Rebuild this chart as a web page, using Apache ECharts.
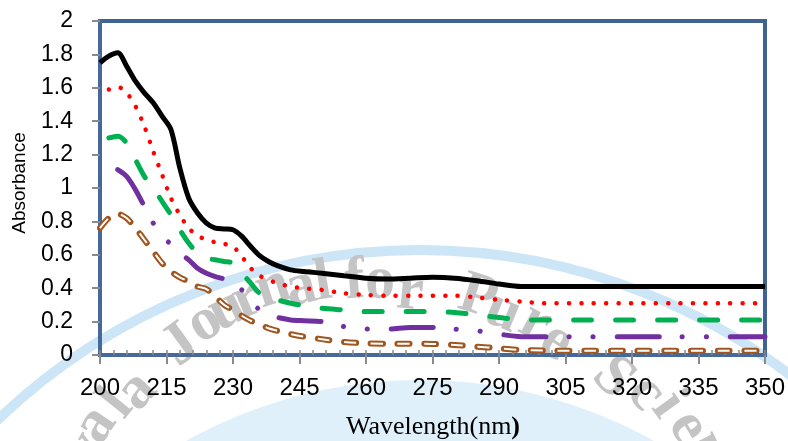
<!DOCTYPE html>
<html><head><meta charset="utf-8">
<script src="https://cdn.jsdelivr.net/npm/echarts@6/dist/echarts.min.js"></script>
<style>html,body{margin:0;padding:0;background:#fff}#c{width:788px;height:441px}</style>
</head><body><div id="c"></div>
<script>
// ---- data ----
const wavelengths = [200,202,204,206,208,210,212,214,216,218,220,222,224,226,228,230,232,234,236,238,240,243,246,250,255,260,265,270,275,280,285,290,295,300,310,320,330,340,350];
const seriesBlack  = [1.75,1.79,1.81,1.73,1.64,1.57,1.51,1.43,1.35,1.12,0.94,0.85,0.79,0.76,0.755,0.75,0.71,0.65,0.595,0.56,0.535,0.51,0.50,0.49,0.475,0.46,0.455,0.46,0.465,0.46,0.445,0.425,0.41,0.41,0.41,0.41,0.41,0.41,0.41];
const seriesRed    = [null,1.59,1.605,1.57,1.49,1.37,1.22,1.08,0.94,0.84,0.76,0.715,0.69,0.675,0.665,0.65,0.59,0.52,0.475,0.45,0.43,0.41,0.40,0.39,0.37,0.36,0.355,0.355,0.355,0.355,0.345,0.33,0.32,0.31,0.31,0.31,0.31,0.31,0.31];
const seriesGreen  = [null,1.30,1.31,1.27,1.17,1.07,1.00,0.92,0.84,0.75,0.67,0.61,0.58,0.57,0.56,0.55,0.49,0.43,0.37,0.345,0.33,0.31,0.295,0.28,0.27,0.26,0.26,0.26,0.26,0.255,0.24,0.225,0.21,0.21,0.21,0.21,0.21,0.21,0.21];
const seriesPurple = [null,null,1.11,1.07,0.99,0.89,0.79,0.72,0.66,0.61,0.57,0.52,0.49,0.47,0.455,0.43,0.39,0.325,0.27,0.24,0.225,0.21,0.205,0.20,0.17,0.155,0.155,0.165,0.165,0.155,0.145,0.125,0.11,0.11,0.11,0.11,0.11,0.11,0.11];
const seriesBrown  = [0.76,0.82,0.845,0.82,0.76,0.69,0.62,0.55,0.50,0.465,0.44,0.41,0.395,0.35,0.30,0.27,0.235,0.205,0.185,0.16,0.145,0.125,0.11,0.095,0.078,0.07,0.068,0.068,0.066,0.06,0.05,0.04,0.03,0.027,0.025,0.025,0.025,0.025,0.025];
const xTickValues = [200,215,230,245,260,275,290,305,320,335,350];
const yTickValues = [0,0.2,0.4,0.6,0.8,1,1.2,1.4,1.6,1.8,2];
const xTitle = 'Wavelength(nm';
const xTitleEnd = ')';
const yTitle = 'Absorbance';
const watermarkText = ['y','a','l','a','J','o','u','r','n','a','l','f','o','r','P','u','r','e','S','c','i','e','n'];

function pairs(vals){ const out=[]; wavelengths.forEach((x,i)=>{ if(vals[i]!=null) out.push([x,vals[i]]); }); return out; }

// ---- decorative watermark layout ----
const wmPos = [[86,450],[96,425],[117,404],[137,391],[181,346],[205,323],[227,310],[247,300],[273,288],[301,288],[323,283],[355,282],[380,282],[410,293],[478,298],[503,312],[535,323],[556,342],[613,378],[646,393],[668,405],[688,427],[708,450]];
const wmC = [378,615];
const graphics = [
  {type:'circle', z:-11, silent:true, shape:{cx:420,cy:860,r:480}, style:{fill:'#e0f0fb'}},
  {type:'circle', z:-10, silent:true, shape:{cx:420,cy:860,r:610}, style:{fill:null, stroke:'#cde6f7', lineWidth:10}},
];
watermarkText.forEach((ch,i)=>{
  const [x,y]=wmPos[i];
  const th=Math.atan2(x-wmC[0], wmC[1]-y);
  graphics.push({type:'text', z:-9, silent:true, x:x, y:y, rotation:-th,
    style:{text:ch, font:'bold 60px Liberation Serif', fill:'#c4c4c4', align:'center', verticalAlign:'middle'}});
});
graphics.push({type:'text', x:20, y:183, rotation:Math.PI/2,
  style:{text:yTitle, font:'19px Liberation Sans', fill:'#000', align:'center', verticalAlign:'middle'}});
graphics.push({type:'text', x:433, y:427,
  style:{text:'{a|'+xTitle+'}{b|'+xTitleEnd+'}', align:'center', verticalAlign:'middle',
    rich:{a:{fontSize:26, fontFamily:'Liberation Serif', fill:'#000'}, b:{fontSize:26, fontFamily:'Liberation Serif', fontWeight:'bold', fill:'#000'}}}});

const axisBlue = '#46699A';
const tickGray = '#8a8a8a';
const base = {type:'line', showSymbol:false, smooth:0.3, animation:false, xAxisIndex:0, yAxisIndex:0};

const option = {
  backgroundColor:'#fff',
  animation:false,
  grid:{left:100, right:22, top:21, bottom:86, show:true, borderColor:'#3E6291', borderWidth:4, backgroundColor:'transparent'},
  xAxis:[
    {type:'value', min:200, max:350, interval:15, position:'bottom',
     axisLine:{show:true, onZero:false, lineStyle:{color:axisBlue, width:4}},
     axisTick:{show:true, length:9, lineStyle:{color:tickGray, width:2}},
     axisLabel:{fontSize:24, color:'#000', fontFamily:'Liberation Sans', margin:21,
       formatter:v=> xTickValues.includes(v)? String(v):''},
     splitLine:{show:false}},
    {type:'value', min:200, max:350, interval:3, position:'bottom',
     axisLine:{show:false}, axisTick:{show:true, inside:true, length:5, lineStyle:{color:tickGray, width:1.5}},
     axisLabel:{show:false}, splitLine:{show:false}}
  ],
  yAxis:{type:'value', min:0, max:2, interval:0.2,
     axisLine:{show:true, lineStyle:{color:axisBlue, width:4}},
     axisTick:{show:true, length:8, lineStyle:{color:tickGray, width:2}},
     axisLabel:{fontSize:23, color:'#000', fontFamily:'Liberation Sans', margin:27,
       formatter:v=>{ const r=Math.round(v*10)/10; return yTickValues.includes(r)? String(r):''; }},
     splitLine:{show:false}},
  graphic: graphics,
  series:[
    Object.assign({}, base, {data:pairs(seriesBlack), lineStyle:{color:'#000000', width:5}}),
    Object.assign({}, base, {data:pairs(seriesRed), lineStyle:{color:'#FF0000', width:4.5, type:[0.1,12.3], cap:'round'}}),
    Object.assign({}, base, {data:pairs(seriesGreen), lineStyle:{color:'#00B050', width:5, type:[18,24], cap:'round'}}),
    Object.assign({}, base, {data:pairs(seriesPurple), lineStyle:{color:'#7030A0', width:5, type:[42,23,0.1,24,0.1,24], cap:'round'}}),
    Object.assign({}, base, {data:pairs(seriesBrown), lineStyle:{color:'#A0561E', width:6, type:[12,14.7], cap:'round'}}),
    Object.assign({}, base, {data:pairs(seriesBrown), lineStyle:{color:'#FFFFFF', width:2, type:[12,14.7], cap:'butt'}})
  ]
};
const chart = echarts.init(document.getElementById('c'), null, {renderer:'canvas'});
chart.setOption(option);
</script>
</body></html>
